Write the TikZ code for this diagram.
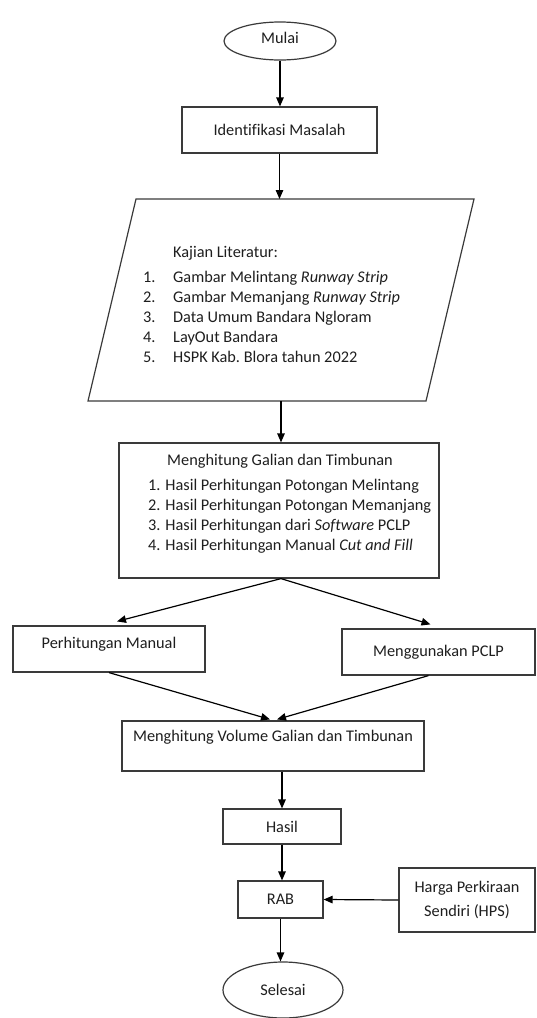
\documentclass[tikz,border=0pt]{standalone}
\usepackage{fontspec}
\setmainfont{Carlito}[Ligatures={NoCommon}]
\usetikzlibrary{arrows.meta,shapes.geometric}
\definecolor{edge}{HTML}{3A3A3A}
\definecolor{txt}{HTML}{1E1E1E}
\begin{document}
\begin{tikzpicture}[x=1pt,y=-1pt,
  every node/.style={font=\fontsize{16.3}{20}\selectfont, text=txt},
  box/.style={draw=edge, line width=1.2pt, inner sep=0pt, align=center},
  shapeline/.style={draw=edge, line width=1.2pt, line join=miter},
  arr/.style={draw=black, line width=1.2pt, -{Triangle[length=9pt,width=7.5pt]}}
]
\useasboundingbox (0,0) rectangle (536,1018);

\node[box, ellipse, minimum width=112pt, minimum height=38pt, text depth=7pt] (mulai) at (280,41) {Mulai};
\node[box, minimum width=195pt, minimum height=46pt] (ident) at (279.5,130) {Identifikasi Masalah};

% parallelogram (Kajian Literatur)
\coordinate (litTL) at (136,199);
\coordinate (litTR) at (474,199);
\coordinate (litBR) at (426,401);
\coordinate (litBL) at (88,401);
\coordinate (litTop) at (281,199);
\coordinate (litBot) at (281,401);
\draw[shapeline] (litTL) -- (litTR) -- (litBR) -- (litBL) -- cycle;
\node[anchor=base west, inner sep=0pt] (littext) at (143,257)
  {\begin{tabular}[t]{@{}p{30pt}@{}l@{}}
   \multicolumn{2}{@{}l@{}}{\hspace{30pt}Kajian Literatur:}\\[5pt]
   1. & Gambar Melintang \textit{Runway Strip}\\
   2. & Gambar Memanjang \textit{Runway Strip}\\
   3. & Data Umum Bandara Ngloram\\
   4. & LayOut Bandara\\
   5. & HSPK Kab.\ Blora tahun 2022
   \end{tabular}};

\node[box, minimum width=320pt, minimum height=135pt] (hitung) at (279,510.5) {};
\node[anchor=base, inner sep=0pt] (hitungtitle) at (280,465) {Menghitung Galian dan Timbunan};
\node[anchor=base west, inner sep=0pt] (hitunglist) at (148,490)
  {\begin{tabular}[t]{@{}l@{}}
   1. Hasil Perhitungan Potongan Melintang\\
   2. Hasil Perhitungan Potongan Memanjang\\
   3. Hasil Perhitungan dari \textit{Software} PCLP\\
   4. Hasil Perhitungan Manual \textit{Cut and Fill}
   \end{tabular}};

\node[box, minimum width=192pt, minimum height=46pt, text depth=12pt] (manual) at (109,649) {Perhitungan Manual};
\node[box, minimum width=193pt, minimum height=46pt] (pclp) at (438.5,652) {Menggunakan PCLP};
\node[box, minimum width=302pt, minimum height=50pt, text depth=20pt] (volume) at (273,746) {Menghitung Volume Galian dan Timbunan};
\node[box, minimum width=118pt, minimum height=35pt] (hasil) at (282,826.5) {Hasil};
\node[box, minimum width=85pt, minimum height=37pt] (rab) at (280.5,899.5) {RAB};
\node[box, minimum width=136pt, minimum height=64pt] (hps) at (467,900) {Harga Perkiraan\\[4pt]Sendiri (HPS)};
\node[box, ellipse, minimum width=120pt, minimum height=56pt] (selesai) at (283,990) {Selesai};

\draw[arr] (mulai.south) -- (mulai.south |- ident.north);
\draw[arr] (ident.south) -- (ident.south |- litTop);
\draw[arr] (litBot) -- (litBot |- hitung.north);
\draw[arr] ([xshift=2pt]hitung.south) -- ([xshift=8pt,yshift=4pt]manual.north);
\draw[arr] ([xshift=2pt]hitung.south) -- ([xshift=-8pt,yshift=4pt]pclp.north);
\draw[arr] (manual.south) -- ([xshift=-3pt,yshift=1pt]volume.north);
\draw[arr] ([xshift=-10pt]pclp.south) -- ([xshift=4pt,yshift=1pt]volume.north);
\draw[arr] (volume.south -| hasil.north) -- (hasil.north);
\draw[arr] (hasil.south) -- (hasil.south |- rab.north);
\draw[arr] (rab.south) -- (rab.south |- selesai.north);
\draw[arr] (hps.west) -- (rab.east);
\end{tikzpicture}
\end{document}
